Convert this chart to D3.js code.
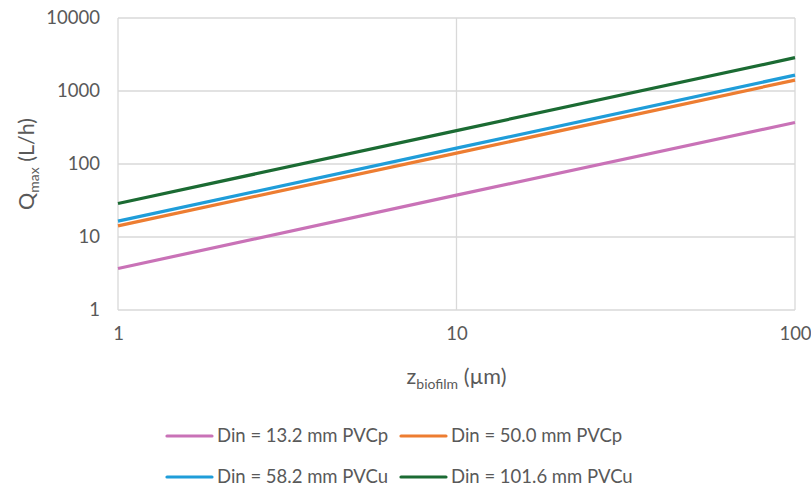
<!DOCTYPE html>
<html>
<head>
<meta charset="utf-8">
<script src="https://cdn.jsdelivr.net/npm/d3@7"></script>
<style>
  body { margin: 0; background: #fff; }
  svg { font-family: Lato, "Open Sans", sans-serif; }
</style>
</head>
<body>
<div id="chart"></div>
<script>
// data
const zValues = [1, 10, 100];
const seriesNames = ["Din = 13.2 mm PVCp", "Din = 50.0 mm PVCp", "Din = 58.2 mm PVCu", "Din = 101.6 mm PVCu"];
const pvcp132 = [3.7, 37.5, 370];
const pvcp500 = [14.2, 141, 1410];
const pvcu582 = [16.5, 165, 1650];
const pvcu1016 = [28.8, 287, 2860];
const seriesColors = ["#c972b7", "#ed7d31", "#1f9dd9", "#1b6b33"];
const xTicks = [1, 10, 100];
const yTicks = [1, 10, 100, 1000, 10000];

const allSeries = [pvcp132, pvcp500, pvcu582, pvcu1016].map((vals, i) => ({
  name: seriesNames[i],
  color: seriesColors[i],
  points: vals.map((v, j) => ({z: zValues[j], q: v}))
}));

const margin = {top: 18, right: 16, bottom: 179, left: 118},
    width = 811 - margin.left - margin.right,
    height = 489 - margin.top - margin.bottom;

const x = d3.scaleLog().domain([1, 100]).range([0, width]);
const y = d3.scaleLog().domain([1, 10000]).range([height, 0]);

const svg = d3.select("#chart").append("svg")
    .attr("width", 811)
    .attr("height", 489);

const g = svg.append("g")
    .attr("transform", "translate(" + margin.left + "," + margin.top + ")");

// gridlines
g.append("g")
  .selectAll("line.h")
  .data(yTicks)
  .join("line")
    .attr("x1", 0).attr("x2", width)
    .attr("y1", d => y(d)).attr("y2", d => y(d))
    .attr("stroke", "#d9d9d9").attr("stroke-width", 1.3);

g.append("g")
  .selectAll("line.v")
  .data(xTicks)
  .join("line")
    .attr("x1", d => x(d)).attr("x2", d => x(d))
    .attr("y1", 0).attr("y2", height)
    .attr("stroke", "#d9d9d9").attr("stroke-width", 1.3);

// y axis labels
const yAxis = g.append("g")
  .call(d3.axisLeft(y).tickValues(yTicks).tickFormat(d3.format("d")).tickSize(0).tickPadding(18));
yAxis.select(".domain").remove();
yAxis.selectAll("text").attr("font-size", 18.5).attr("fill", "#595959").attr("font-family", "Lato, sans-serif");

// x axis labels
const xAxis = g.append("g")
  .attr("transform", "translate(0," + height + ")")
  .call(d3.axisBottom(x).tickValues(xTicks).tickFormat(d3.format("d")).tickSize(0).tickPadding(17));
xAxis.select(".domain").remove();
xAxis.selectAll("text").attr("font-size", 18.5).attr("fill", "#595959").attr("font-family", "Lato, sans-serif");

// series lines
const valueLine = d3.line()
    .x(d => x(d.z))
    .y(d => y(d.q));

g.selectAll("path.series")
  .data(allSeries)
  .join("path")
    .attr("class", "series")
    .attr("fill", "none")
    .attr("stroke", d => d.color)
    .attr("stroke-width", 3.2)
    .attr("d", d => valueLine(d.points));

// axis titles
const yTitle = svg.append("text")
    .attr("transform", "translate(34," + (margin.top + height / 2) + ") rotate(-90)")
    .attr("text-anchor", "middle")
    .attr("font-size", 21.5)
    .attr("fill", "#595959");
yTitle.append("tspan").text("Q");
yTitle.append("tspan").attr("font-size", 14).attr("dy", 5).text("max");
yTitle.append("tspan").attr("dy", -5).text(" (L/h)");

const xTitle = svg.append("text")
    .attr("x", margin.left + width / 2)
    .attr("y", 384)
    .attr("text-anchor", "middle")
    .attr("font-size", 21.5)
    .attr("fill", "#595959");
xTitle.append("tspan").text("z");
xTitle.append("tspan").attr("font-size", 14).attr("dy", 5).text("biofilm");
xTitle.append("tspan").attr("dy", -5).text(" (µm)");

// legend
const legendPos = [[167, 436], [401, 436], [167, 477], [401, 477]];
const legend = svg.append("g")
  .selectAll("g")
  .data(allSeries)
  .join("g")
    .attr("transform", (d, i) => "translate(" + legendPos[i][0] + "," + legendPos[i][1] + ")");

legend.append("line")
    .attr("x1", 0).attr("x2", 45)
    .attr("stroke", d => d.color)
    .attr("stroke-width", 3.2)
    .attr("stroke-linecap", "round");

legend.append("text")
    .attr("x", 50)
    .attr("dy", "0.35em")
    .attr("font-size", 18.5)
    .attr("fill", "#595959")
    .text(d => d.name);
</script>
</body>
</html>
